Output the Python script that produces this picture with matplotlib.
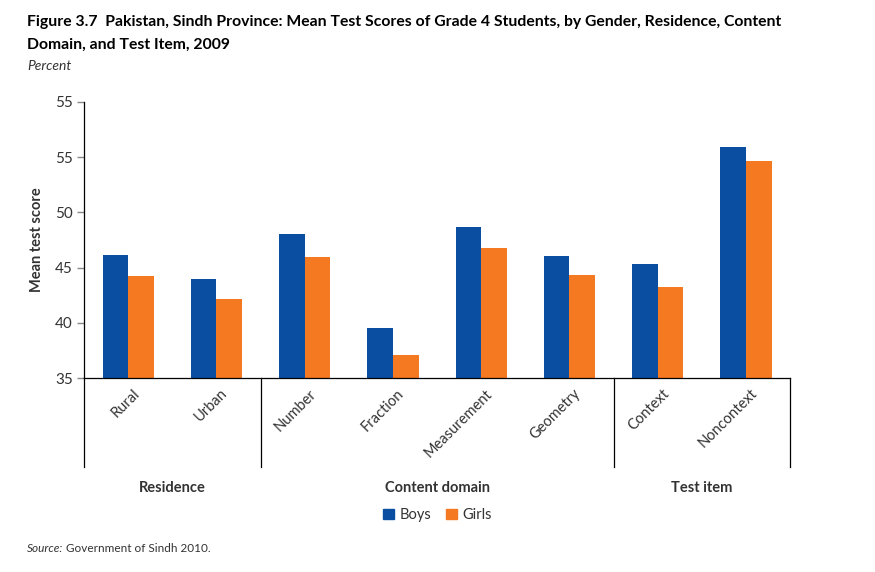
import matplotlib.pyplot as plt
import matplotlib.transforms as mtransforms
from matplotlib.patches import Patch
import numpy as np

categories = ['Rural', 'Urban', 'Number', 'Fraction', 'Measurement', 'Geometry', 'Context', 'Noncontext']
boys = [46.1, 44.0, 48.0, 39.5, 48.7, 46.05, 45.3, 55.9]
girls = [44.2, 42.2, 46.0, 37.1, 46.8, 44.3, 43.2, 54.6]
groups = ['Residence', 'Content domain', 'Test item']
group_spans = [(-0.5, 1.5), (1.5, 5.5), (5.5, 7.5)]
ytick_vals = [35, 40, 45, 50, 55, 60]
ytick_labels = ['35', '40', '45', '50', '55', '55']  # as printed in the source figure

blue = '#0a4ea2'
orange = '#f47920'
txt = '#333333'

plt.rcParams['font.family'] = ['Lato', 'DejaVu Sans']

fig = plt.figure(figsize=(8.75, 5.72), dpi=100)
ax = fig.add_axes([0.096, 0.339, 0.807, 0.483])

x = np.arange(len(categories))
w = 0.29
ax.bar(x - w / 2, boys, w, color=blue, label='Boys')
ax.bar(x + w / 2, girls, w, color=orange, label='Girls')

ax.set_xlim(-0.5, 7.5)
ax.set_ylim(35, 60)
ax.set_yticks(ytick_vals)
ax.set_yticklabels(ytick_labels, fontsize=11, color=txt)
ax.tick_params(axis='y', length=5, width=1, color='#888888', pad=3)
ax.spines['top'].set_visible(False)
ax.spines['right'].set_visible(False)
ax.spines['left'].set_linewidth(0.9)
ax.spines['bottom'].set_linewidth(0.9)
ax.set_ylabel('Mean test score', fontsize=10.5, fontweight='bold', color=txt, labelpad=8)

# category labels, rotated
ax.set_xticks(x)
ax.set_xticklabels(categories, rotation=45, ha='right', va='top', rotation_mode='anchor',
                   fontsize=10.5, color=txt)
ax.tick_params(axis='x', length=0, pad=6)
offset = mtransforms.ScaledTranslation(0.04, 0, fig.dpi_scale_trans)
for lab in ax.get_xticklabels():
    lab.set_transform(lab.get_transform() + offset)

# group boxes and labels
trans = mtransforms.blended_transform_factory(ax.transData, fig.transFigure)
y_top = 1 - 378 / 572
y_bot = 1 - 467 / 572
edges = sorted(set([s for s, e in group_spans] + [e for s, e in group_spans]))
for ex in edges:
    ax.plot([ex, ex], [y_top, y_bot], color='black', lw=0.9, transform=trans, clip_on=False)
for g, (s, e) in zip(groups, group_spans):
    fig.text((s + e) / 2, 1 - 488 / 572, g, transform=trans, ha='center', va='center',
             fontsize=10.5, fontweight='bold', color=txt)

handles = [Patch(color=blue, label='Boys'), Patch(color=orange, label='Girls')]
fig.legend(handles=handles, loc='center', bbox_to_anchor=(0.5, 1 - 515 / 572), ncol=2,
           frameon=False, fontsize=10.5, handlelength=0.75, handleheight=0.75,
           handletextpad=0.4, columnspacing=1.0, labelcolor=txt)

# title: shrink font until the first line fits the reference width (~750 px)
line1 = 'Figure 3.7  Pakistan, Sindh Province: Mean Test Scores of Grade 4 Students, by Gender, Residence, Content'
t1 = fig.text(0.031, 1 - 22 / 572, line1, fontsize=11.5, fontweight='bold', va='center', color='black')
fig.canvas.draw()
wpx = t1.get_window_extent().width
tsize = 11.5 * 750 / wpx
t1.set_fontsize(tsize)
fig.text(0.031, 1 - 45 / 572, 'Domain, and Test Item, 2009',
         fontsize=tsize, fontweight='bold', va='center', color='black')
fig.text(0.031, 1 - 66 / 572, 'Percent', fontsize=10, style='italic', va='center', color=txt)

src = fig.text(0.031, 1 - 548 / 572, 'Source:', fontsize=8.5, style='italic', va='center', color=txt)
fig.canvas.draw()
bb = src.get_window_extent()
fig.text(bb.x1 / fig.bbox.width + 0.003, 1 - 548 / 572, 'Government of Sindh 2010.',
         fontsize=8.5, va='center', color=txt)

fig.savefig('out.png', dpi=100)
